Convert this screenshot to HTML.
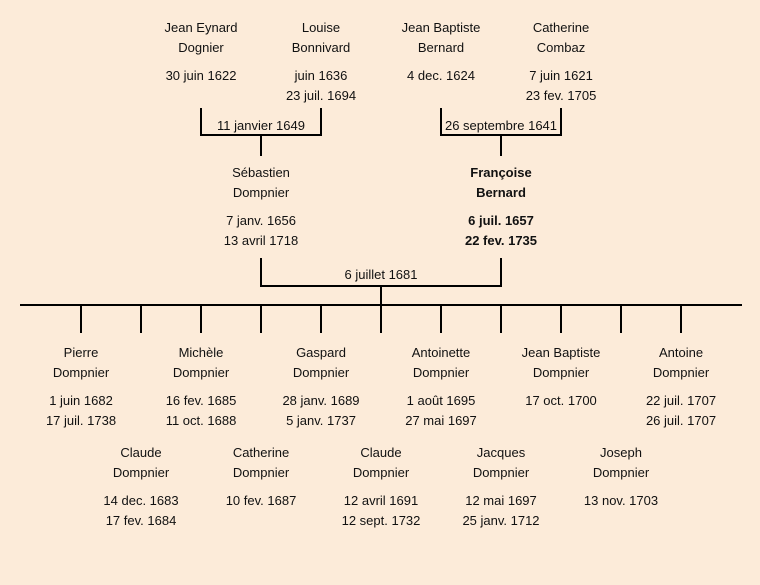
<!DOCTYPE html>
<html><head><meta charset="utf-8"><style>
html,body{margin:0;padding:0;background:#fcebd9;}
svg{display:block;}
text{font-family:"Liberation Sans","DejaVu Sans",sans-serif;font-size:13px;fill:#111;text-anchor:middle;dominant-baseline:middle;}
.b{font-weight:bold;}
</style></head><body>
<svg width="760" height="585" viewBox="0 0 760 585">
<rect width="760" height="585" fill="#fcebd9"/>
<g stroke="#000" stroke-width="2" fill="none">
<polyline points="201,108 201,135 321,135 321,108"/>
<line x1="261" y1="135" x2="261" y2="156"/>
<polyline points="441,108 441,135 561,135 561,108"/>
<line x1="501" y1="135" x2="501" y2="156"/>
<polyline points="261,258 261,286 501,286 501,258"/>
<line x1="381" y1="286" x2="381" y2="305"/>
<line x1="20" y1="305" x2="742" y2="305"/>
<line x1="81" y1="305" x2="81" y2="333"/>
<line x1="141" y1="305" x2="141" y2="333"/>
<line x1="201" y1="305" x2="201" y2="333"/>
<line x1="261" y1="305" x2="261" y2="333"/>
<line x1="321" y1="305" x2="321" y2="333"/>
<line x1="381" y1="305" x2="381" y2="333"/>
<line x1="441" y1="305" x2="441" y2="333"/>
<line x1="501" y1="305" x2="501" y2="333"/>
<line x1="561" y1="305" x2="561" y2="333"/>
<line x1="621" y1="305" x2="621" y2="333"/>
<line x1="681" y1="305" x2="681" y2="333"/>
</g>
<g transform="translate(0,1.5)">
<text x="201" y="27">Jean Eynard</text><text x="201" y="47">Dognier</text><text x="201" y="75">30 juin 1622</text>
<text x="321" y="27">Louise</text><text x="321" y="47">Bonnivard</text><text x="321" y="75">juin 1636</text><text x="321" y="95">23 juil. 1694</text>
<text x="441" y="27">Jean Baptiste</text><text x="441" y="47">Bernard</text><text x="441" y="75">4 dec. 1624</text>
<text x="561" y="27">Catherine</text><text x="561" y="47">Combaz</text><text x="561" y="75">7 juin 1621</text><text x="561" y="95">23 fev. 1705</text>
<text x="261" y="125">11 janvier 1649</text>
<text x="501" y="125">26 septembre 1641</text>
<text x="261" y="172">Sébastien</text><text x="261" y="192">Dompnier</text><text x="261" y="220">7 janv. 1656</text><text x="261" y="240">13 avril 1718</text>
<text class="b" x="501" y="172">Françoise</text><text class="b" x="501" y="192">Bernard</text><text class="b" x="501" y="220">6 juil. 1657</text><text class="b" x="501" y="240">22 fev. 1735</text>
<text x="381" y="274">6 juillet 1681</text>
<text x="81" y="352">Pierre</text><text x="81" y="372">Dompnier</text><text x="81" y="400">1 juin 1682</text><text x="81" y="420">17 juil. 1738</text>
<text x="201" y="352">Michèle</text><text x="201" y="372">Dompnier</text><text x="201" y="400">16 fev. 1685</text><text x="201" y="420">11 oct. 1688</text>
<text x="321" y="352">Gaspard</text><text x="321" y="372">Dompnier</text><text x="321" y="400">28 janv. 1689</text><text x="321" y="420">5 janv. 1737</text>
<text x="441" y="352">Antoinette</text><text x="441" y="372">Dompnier</text><text x="441" y="400">1 août 1695</text><text x="441" y="420">27 mai 1697</text>
<text x="561" y="352">Jean Baptiste</text><text x="561" y="372">Dompnier</text><text x="561" y="400">17 oct. 1700</text>
<text x="681" y="352">Antoine</text><text x="681" y="372">Dompnier</text><text x="681" y="400">22 juil. 1707</text><text x="681" y="420">26 juil. 1707</text>
<text x="141" y="452">Claude</text><text x="141" y="472">Dompnier</text><text x="141" y="500">14 dec. 1683</text><text x="141" y="520">17 fev. 1684</text>
<text x="261" y="452">Catherine</text><text x="261" y="472">Dompnier</text><text x="261" y="500">10 fev. 1687</text>
<text x="381" y="452">Claude</text><text x="381" y="472">Dompnier</text><text x="381" y="500">12 avril 1691</text><text x="381" y="520">12 sept. 1732</text>
<text x="501" y="452">Jacques</text><text x="501" y="472">Dompnier</text><text x="501" y="500">12 mai 1697</text><text x="501" y="520">25 janv. 1712</text>
<text x="621" y="452">Joseph</text><text x="621" y="472">Dompnier</text><text x="621" y="500">13 nov. 1703</text>
</g>
</svg>
</body></html>
